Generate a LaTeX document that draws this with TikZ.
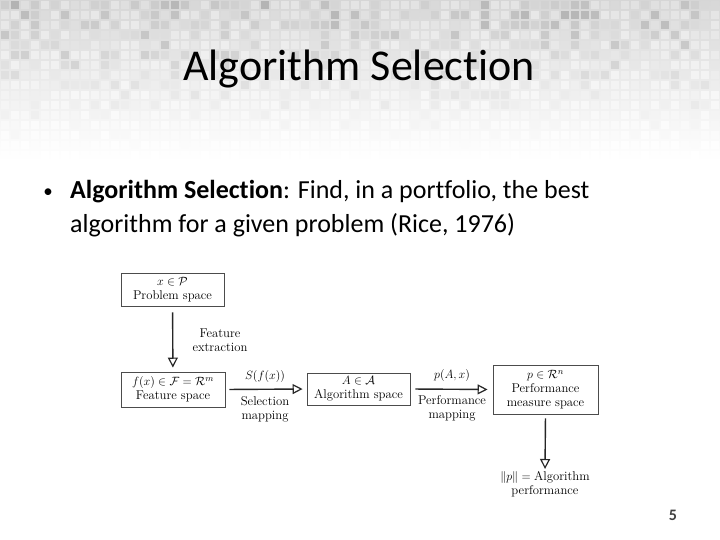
\documentclass[tikz,border=0pt]{standalone}
\usepackage{fontspec}
\usepackage{amsmath,amssymb}
\newfontfamily\slidefont[Ligatures=NoCommon]{Carlito}
\usetikzlibrary{arrows.meta}
\tikzset{
  box/.style={draw=black!70, line width=0.9pt, fill=white, inner sep=0pt, align=center, font=\fontsize{12.7}{14}\selectfont},
  lbl/.style={inner sep=0pt, align=center, font=\fontsize{12.7}{14}\selectfont},
  conn/.style={draw=black!85, line width=1.4pt, -{Triangle[open, length=10pt, width=10pt, line width=1.2pt]}},
}
\begin{document}
\begin{tikzpicture}[x=1pt,y=-1pt]
\useasboundingbox (0,0) rectangle (720,540);
\fill[white] (0,0) rectangle (720,540);
% background mosaic
\shade[top color=black!16, bottom color=white] (0,0) rectangle (720,160);
\pgfmathsetseed{11}
\foreach \r in {0,...,15}{
  \foreach \c in {0,...,72}{
    \pgfmathsetmacro\g{max(0,(1-\r/15.5))^1.3*(10+(rnd^2)*22)}
    \fill[black!\g] (\c*10+0.6,\r*10+0.6) rectangle +(8.8,8.8);
  }
}
% title
\node[anchor=base, inner sep=0pt, font=\slidefont\fontsize{44}{50}\selectfont] (title) at (359,81) {Algorithm Selection};
% bullet
\node[anchor=base, inner sep=0pt, font=\slidefont\fontsize{19}{30}\selectfont] (bul) at (48,197) {•};
\node[anchor=base west, inner sep=0pt, font=\slidefont\fontsize{26}{30}\selectfont] (line1) at (70,199) {\textbf{Algorithm Selection}: Find, in a portfolio, the best};
\node[anchor=base west, inner sep=0pt, font=\slidefont\fontsize{26}{30}\selectfont] (line2) at (70,233) {algorithm for a given problem (Rice, 1976)};
% diagram boxes
\node[box, minimum width=103pt, minimum height=33pt] (ps) at (172.5,289.5) {$x\in\mathcal{P}$\\Problem space};
\node[box, minimum width=104pt, minimum height=35pt] (fs) at (173,389.5) {$f(x)\in\mathcal{F}=\mathcal{R}^m$\\Feature space};
\node[box, minimum width=103pt, minimum height=32pt] (as) at (358.5,389) {$A\in\mathcal{A}$\\Algorithm space};
\node[box, minimum width=105pt, minimum height=49pt] (pm) at (545.5,389.5) {$p\in\mathcal{R}^n$\\Performance\\measure space};
\node[lbl, anchor=north] (perf) at (545,471) {$\|p\|=\text{Algorithm}$\\performance};
% connectors
\draw[conn, shorten <=6pt, shorten >=4pt] (ps) -- (fs);
\draw[conn, shorten <=4pt, shorten >=4pt] (fs.east) -- (as.west);
\draw[conn, shorten <=5pt, shorten >=5pt] (as.east) -- (pm.west);
\draw[conn, shorten <=4pt, shorten >=2pt] (pm.south) -- (perf.north);
% connector labels
\node[lbl] (fe) at (220,340) {Feature\\extraction};
\node[lbl, anchor=base] (sfx) at (265,379) {$S(f(x))$};
\node[lbl] (sm) at (265,409) {Selection\\mapping};
\node[lbl, anchor=base] (pax) at (452,378) {$p(A,x)$};
\node[lbl] (pmap) at (452,408) {Performance\\mapping};
% page number
\node[anchor=base, inner sep=0pt, text=black!75, font=\slidefont\bfseries\fontsize{16}{18}\selectfont] (pg) at (673,520) {5};
\end{tikzpicture}
\end{document}
